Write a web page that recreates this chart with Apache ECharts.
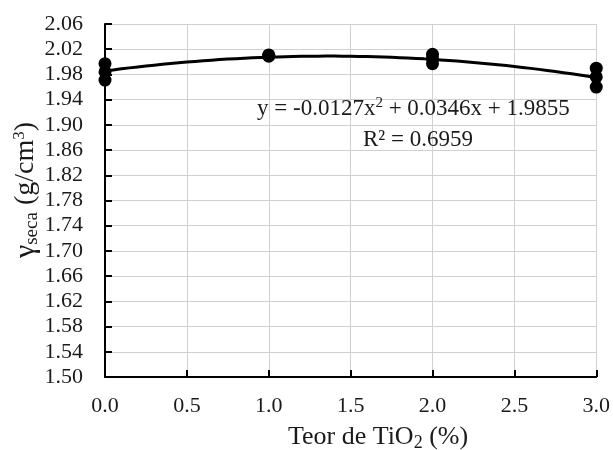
<!DOCTYPE html>
<html>
<head>
<meta charset="utf-8">
<script src="https://cdn.jsdelivr.net/npm/echarts@6/dist/echarts.min.js"></script>
<style>
  html, body { margin: 0; padding: 0; background: #fff; }
  #chart { width: 613px; height: 450px; }
</style>
</head>
<body>
<div id="chart"></div>
<script>
// TiO2 content (%) for each measured specimen
const teorTiO2 = [0, 0, 0, 1, 1, 1, 2, 2, 2, 3, 3, 3];
// Dry unit weight (g/cm3) for each specimen
const gammaSeca = [1.997, 1.984, 1.971, 2.011, 2.010, 2.009, 2.012, 2.005, 1.997, 1.990, 1.976, 1.960];
// Polynomial trendline coefficients (a·x² + b·x + c) and fit quality
const trendCoef = [-0.0127, 0.0346, 1.9855];
const rSquared = 0.6959;
// Axis tick labels
const yTicks = ['1.50','1.54','1.58','1.62','1.66','1.70','1.74','1.78','1.82','1.86','1.90','1.94','1.98','2.02','2.06'];
const xTicks = ['0.0','0.5','1.0','1.5','2.0','2.5','3.0'];

const points = teorTiO2.map((x, i) => [x, gammaSeca[i]]);

// Trendline sampled from the stated polynomial
const trend = [];
for (let k = 0; k <= 60; k++) {
  const x = k * 0.05;
  trend.push([x, trendCoef[0] * x * x + trendCoef[1] * x + trendCoef[2]]);
}

const serif = '"Liberation Serif", "Times New Roman", serif';
const ink = '#1a1a1a';
const chart = echarts.init(document.getElementById('chart'));

chart.setOption({
  backgroundColor: '#fff',
  animation: false,
  grid: { left: 105, right: 16, top: 24, bottom: 73, containLabel: false },
  xAxis: {
    type: 'value',
    min: 0, max: 3, interval: 0.5,
    axisLine: { show: true, onZero: false, lineStyle: { color: '#000', width: 2 } },
    axisTick: { show: true, inside: true, length: 7, lineStyle: { color: '#000', width: 2 } },
    splitLine: { show: true, lineStyle: { color: '#d0d0d0', width: 1 } },
    axisLabel: {
      fontFamily: serif, fontSize: 22, color: ink, margin: 18,
      formatter: v => xTicks[Math.round(v / 0.5)]
    }
  },
  yAxis: {
    type: 'value',
    min: 1.50, max: 2.06, interval: 0.04,
    axisLine: { show: true, onZero: false, lineStyle: { color: '#000', width: 2 } },
    axisTick: { show: true, inside: true, length: 7, lineStyle: { color: '#000', width: 2 } },
    splitLine: { show: true, lineStyle: { color: '#d0d0d0', width: 1 } },
    axisLabel: {
      fontFamily: serif, fontSize: 22, color: ink, margin: 22,
      formatter: v => yTicks[Math.round((v - 1.50) / 0.04)]
    }
  },
  series: [
    {
      type: 'line',
      data: trend,
      showSymbol: false,
      smooth: false,
      lineStyle: { color: '#000', width: 3 },
      z: 2,
      silent: true
    },
    {
      type: 'scatter',
      data: points,
      symbol: 'circle',
      symbolSize: 13,
      itemStyle: { color: '#000', opacity: 1 },
      z: 3
    }
  ],
  graphic: [
    {
      // x-axis title
      type: 'text',
      x: 378, y: 437,
      style: {
        text: '{t|Teor de TiO}{s|2}{t| (%)}',
        align: 'center', verticalAlign: 'middle',
        rich: {
          t: { fontFamily: serif, fontSize: 26, fill: ink },
          s: { fontFamily: serif, fontSize: 18, fill: ink, padding: [12, 0, 0, 0] }
        }
      }
    },
    {
      // y-axis title
      type: 'text',
      x: 26, y: 190,
      rotation: Math.PI / 2,
      style: {
        text: '{g|γ}{s|seca}{t| (g/cm}{p|3}{t|)}',
        align: 'center', verticalAlign: 'middle',
        rich: {
          g: { fontFamily: serif, fontSize: 30, fill: ink },
          t: { fontFamily: serif, fontSize: 28, fill: ink },
          s: { fontFamily: serif, fontSize: 19, fill: ink, padding: [12, 0, 0, 0] },
          p: { fontFamily: serif, fontSize: 17, fill: ink, padding: [0, 0, 12, 0] }
        }
      }
    },
    {
      type: 'text',
      x: 257, y: 109,
      style: {
        text: '{t|y = -' + Math.abs(trendCoef[0]).toFixed(4) + 'x}{p|2}{t| + ' + trendCoef[1].toFixed(4) + 'x + ' + trendCoef[2].toFixed(4) + '}',
        align: 'left', verticalAlign: 'middle',
        rich: {
          t: { fontFamily: serif, fontSize: 23, fill: ink },
          p: { fontFamily: serif, fontSize: 15, fill: ink, padding: [0, 0, 11, 0] }
        }
      },
      z: 10
    },
    {
      type: 'text',
      x: 363, y: 140,
      style: {
        text: 'R² = ' + rSquared.toFixed(4),
        align: 'left', verticalAlign: 'middle',
        fontFamily: serif, fontSize: 23, fill: ink
      },
      z: 10
    }
  ]
});
</script>
</body>
</html>
